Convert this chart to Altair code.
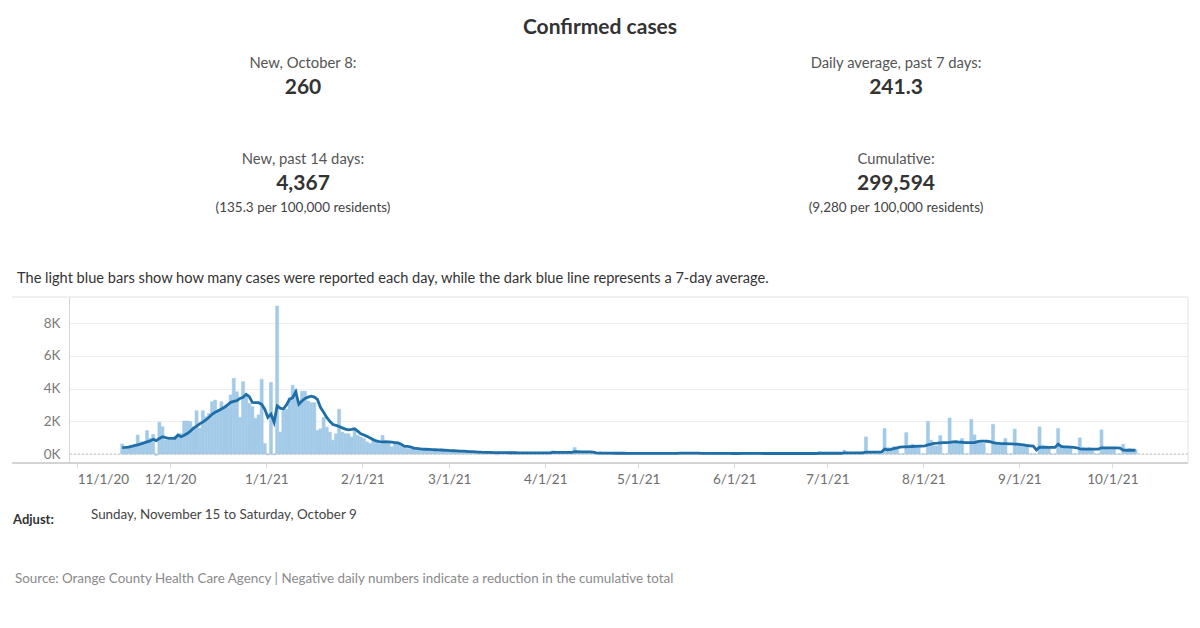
import altair as alt
import pandas as pd

# ---------------- data ----------------
FIRST_DAY = "2020-11-15"

# daily reported cases, one list per month
cases_nov_2020 = [610, 450, 450, 550, 600, 1160, 750, 600, 1430, 960, 1200, -80, 1940, 1670, 860, 860]
cases_dec_2020 = [860, 1060, 1160, 1260, 2020, 2020, 1980, 1670, 2650, 1570, 2650, 2280, 2490, 3200, 3300,
                  2690, 3200, 2800, 2900, 3610, 4630, 3810, 2240, 4430, 3510, 3100, 2900, 2180, 2390, 4570, 640]
cases_jan_2021 = [-50, 4380, -50, 9050, 1340, 2640, 2740, 3440, 4200, 3940, 3040, 3840, 3840, 3240, 3140,
                  3140, 1440, 1540, 2240, 1640, 1340, 840, 1240, 2740, 1340, 1240, 1240, 1040, 1440, 1140, 1040]
cases_feb_2021 = [940, 740, 640, 840, 740, 640, 1140, 840, 740, 440, 640, 640, 540, 440, 340, 340, 300, 280,
                  260, 250, 240, 260, 230, 220, 250, 340, 200, 190]
cases_mar_2021 = [180, 170, 160, 150, 170, 140, 120, 130, 110, 120, 100, 110, 100, 90, 100, -40, 90, 80, 90,
                  70, 80, 70, 80, 60, 70, 80, 60, 70, 60, 80, 70]
cases_apr_2021 = [60, 70, 200, 50, 70, 60, 80, 60, 70, 400, 50, 60, 70, 60, 50, 40, 50, 40, 50, 40, 50, 40,
                  30, 50, 40, 50, 40, 40, 50, 40]
cases_may_2021 = [52, 38, 47, 41, 33, 26, 55, 44, 36, 49, 40, 31, 22, 90, 58, 45, 51, 37, 29, 24, 48, 39, 34,
                  42, 30, 21, 18, 35, 41, 33, 28]
cases_jun_2021 = [45, 30, 38, 42, 25, 20, 50, 35, 40, 28, 33, 22, 18, 46, 38, 30, 41, 27, 19, 15, 44, 36, 31,
                  40, 24, 17, 12, 140, 35, 42]
cases_jul_2021 = [45, 38, 25, 20, 15, 240, 60, 55, 50, 20, 15, 150, 1050, 150, 150, 120, 0, 0, 1560, 400, 350,
                  450, 350, 0, 0, 1310, 500, 600, 550, 500, 0]
cases_aug_2021 = [0, 2000, 850, 500, 500, 1130, 0, 0, 2200, 700, 750, 700, 950, 0, 0, 2120, 1170, 700, 700,
                  650, 0, 0, 1820, 650, 600, 550, 950, 0, 0, 1520, 550]
cases_sep_2021 = [600, 500, 500, 0, 0, 0, 1660, 550, 500, 450, 0, 0, 1560, 450, 400, 450, 350, 0, 0, 990, 400,
                  350, 400, 300, 0, 0, 1480, 300, 320, 270]
cases_oct_2021 = [307, 0, 0, 600, 250, 330, 250, 260]

# 7-day average (dark blue line), one list per month
avg_nov_2020 = [390, 400, 420, 460, 510, 560, 610, 680, 740, 800, 900, 820, 950, 1060, 1000, 960]
avg_dec_2020 = [960, 960, 1160, 1060, 1150, 1250, 1400, 1570, 1700, 1840, 1950, 2080, 2250, 2430, 2550, 2650,
                2750, 2860, 3000, 3160, 3220, 3260, 3400, 3470, 3650, 3510, 3160, 3140, 3140, 3040, 2740]
avg_jan_2021 = [2240, 2440, 1940, 2940, 2800, 2750, 3000, 3340, 3440, 3800, 3040, 3240, 3400, 3480, 3540, 3480,
                3340, 2840, 2550, 2240, 2000, 1800, 1750, 1680, 1600, 1520, 1480, 1500, 1540, 1400, 1240]
avg_feb_2021 = [1160, 1080, 980, 880, 800, 760, 740, 740, 740, 720, 700, 680, 600, 480, 460, 440, 360, 340, 320,
                300, 290, 280, 270, 260, 250, 240, 230, 220]
avg_mar_2021 = [210, 200, 190, 180, 170, 160, 150, 140, 130, 120, 110, 105, 100, 95, 90, 85, 82, 80, 80, 78, 78,
                76, 75, 75, 74, 74, 73, 72, 72, 72, 72]
avg_apr_2021 = [72, 72, 100, 98, 96, 95, 95, 95, 94, 140, 138, 136, 134, 130, 125, 120, 70, 60, 55, 52, 50, 48,
                46, 45, 45, 45, 44, 44, 44, 44]
avg_may_2021 = [44, 42, 42, 42, 41, 41, 41, 41, 40, 40, 40, 40, 40, 48, 52, 52, 52, 52, 52, 52, 44, 40, 38, 38,
                36, 35, 34, 34, 33, 33, 32]
avg_jun_2021 = [32, 32, 33, 33, 33, 33, 33, 33, 33, 32, 32, 32, 31, 31, 31, 31, 31, 31, 30, 30, 30, 30, 30, 30,
                30, 30, 30, 45, 45, 45]
avg_jul_2021 = [45, 45, 45, 45, 45, 75, 75, 75, 75, 75, 75, 70, 110, 120, 120, 120, 120, 120, 300, 250, 280, 330,
                380, 420, 440, 440, 450, 460, 470, 480, 480]
avg_aug_2021 = [500, 560, 600, 650, 660, 680, 690, 690, 710, 740, 750, 730, 720, 700, 690, 690, 700, 760, 790,
                790, 780, 760, 700, 670, 650, 640, 630, 620, 620, 610, 600]
avg_sep_2021 = [580, 560, 520, 500, 480, 250, 420, 400, 400, 400, 400, 400, 600, 460, 440, 430, 420, 400, 380,
                320, 300, 300, 300, 300, 300, 300, 380, 380, 380, 380]
avg_oct_2021 = [380, 370, 360, 240, 230, 240, 230, 241.3]

x_tick_dates = [(2020, 11), (2020, 12), (2021, 1), (2021, 2), (2021, 3), (2021, 4), (2021, 5), (2021, 6),
                (2021, 7), (2021, 8), (2021, 9), (2021, 10)]
y_tick_values = [0, 2000, 4000, 6000, 8000]

# texts
TITLE = "Confirmed cases"
KPI_LEFT = ["New, October 8:", "260", "New, past 14 days:", "4,367", "(135.3 per 100,000 residents)"]
KPI_RIGHT = ["Daily average, past 7 days:", "241.3", "Cumulative:", "299,594", "(9,280 per 100,000 residents)"]
SUBTITLE = ("The light blue bars show how many cases were reported each day, "
            "while the dark blue line represents a 7-day average.")
ADJUST_LABEL = "Adjust:"
ADJUST_RANGE = "Sunday, November 15 to Saturday, October 9"
SOURCE = ("Source: Orange County Health Care Agency | Negative daily numbers indicate "
          "a reduction in the cumulative total")

# ---------------- build table ----------------
daily_cases = (cases_nov_2020 + cases_dec_2020 + cases_jan_2021 + cases_feb_2021 + cases_mar_2021 +
               cases_apr_2021 + cases_may_2021 + cases_jun_2021 + cases_jul_2021 + cases_aug_2021 +
               cases_sep_2021 + cases_oct_2021)
seven_day_avg = (avg_nov_2020 + avg_dec_2020 + avg_jan_2021 + avg_feb_2021 + avg_mar_2021 + avg_apr_2021 +
                 avg_may_2021 + avg_jun_2021 + avg_jul_2021 + avg_aug_2021 + avg_sep_2021 + avg_oct_2021)

days = pd.date_range(FIRST_DAY, periods=len(daily_cases), freq="D")
df = pd.DataFrame({
    "day": days.strftime("%Y-%m-%dT00:00:00Z"),
    "next": (days + pd.Timedelta(days=1)).strftime("%Y-%m-%dT00:00:00Z"),
    "mid": days.strftime("%Y-%m-%dT12:00:00Z"),
    "cases": daily_cases,
    "avg": seven_day_avg[:len(daily_cases)],
})

# ---------------- layout constants ----------------
W, H = 1119, 166          # plot area
PAD_L, PAD_T = 61, 289    # page x=69, y=297 for plot origin
FONT = "Lato"
BAR_COLOR = "#a3cbe8"
LINE_COLOR = "#1f6ea8"


def px(xp):  # page x -> plot x
    return xp - (8 + PAD_L)


def py(yp):  # page y -> plot y
    return yp - (8 + PAD_T)


x_scale = alt.Scale(
    type="utc",
    domain=[alt.DateTime(year=2020, month=10, date=29, hours=8, utc=True),
            alt.DateTime(year=2021, month=10, date=25, hours=10, utc=True)],
    nice=False,
)
y_scale = alt.Scale(domain=[-550, 9600], nice=False, zero=False)

x_axis = alt.Axis(
    values=[alt.DateTime(year=y, month=m, date=1, utc=True) for (y, m) in x_tick_dates],
    labelExpr="utcFormat(datum.value, '%-m/%-d/%y')",
    title=None, grid=False, domain=False,
    tickSize=5, tickColor="#dddddd", labelPadding=4,
    labelFont=FONT, labelFontSize=13.5, labelColor="#6e6e6e",
    labelFlush=12, labelOverlap=False,
)
y_axis = alt.Axis(
    values=y_tick_values, labelExpr="datum.value / 1000 + 'K'",
    title=None, grid=True, gridColor="#eeeeee", gridWidth=1,
    domain=True, domainColor="#d6d6d6", ticks=False, labelPadding=9,
    labelFont=FONT, labelFontSize=13.5, labelColor="#7a7a7a",
)

base = alt.Chart(df)

bars = base.mark_bar(color=BAR_COLOR, stroke=BAR_COLOR, strokeWidth=0.5).encode(
    x=alt.X("day:T", scale=x_scale, axis=x_axis),
    x2="next:T",
    y=alt.Y("cases:Q", scale=y_scale, axis=y_axis),
    y2=alt.datum(0),
)

zero_line = alt.Chart(pd.DataFrame({"v": [0]})).mark_rule(
    color="#bdbdbd", strokeDash=[2, 2], strokeWidth=1
).encode(y=alt.Y("v:Q", scale=y_scale))

avg_line = base.mark_line(color=LINE_COLOR, strokeWidth=2.8, interpolate="linear").encode(
    x=alt.X("mid:T", scale=x_scale),
    y=alt.Y("avg:Q", scale=y_scale),
)

one = pd.DataFrame({"k": [0]})


def rule(x1, x2, y1, y2, color, width):
    return alt.Chart(one).mark_rule(color=color, strokeWidth=width).encode(
        x=alt.value(x1), x2=alt.value(x2), y=alt.value(y1), y2=alt.value(y2)
    )


frame = [
    rule(px(12), W, 0, 0, "#e2e2e2", 1),
    rule(px(12), W, H, H, "#d3d3d3", 2),
    rule(W, W, 0, H, "#e2e2e2", 1),
]


def label(text, xp, yp, size=14, weight="normal", color="#333333", align="center"):
    return alt.Chart(one).mark_text(
        text=text, font=FONT, fontSize=size, fontWeight=weight, color=color,
        align=align, baseline="middle",
    ).encode(x=alt.value(px(xp)), y=alt.value(py(yp)))


texts = [label(TITLE, 600, 28, size=21, weight="bold", color="#333333")]
for col_x, items in ((303, KPI_LEFT), (896, KPI_RIGHT)):
    texts += [
        label(items[0], col_x, 64, size=14.8, color="#555555"),
        label(items[1], col_x, 88, size=21, weight="bold", color="#333333"),
        label(items[2], col_x, 160, size=14.8, color="#555555"),
        label(items[3], col_x, 184, size=21, weight="bold", color="#333333"),
        label(items[4], col_x, 208, size=13.5, color="#444444"),
    ]
texts += [
    label(SUBTITLE, 17, 279, size=14.6, color="#333333", align="left"),
    label(ADJUST_LABEL, 13, 520, size=13, weight="bold", color="#333333", align="left"),
    label(ADJUST_RANGE, 91, 515, size=13.4, color="#444444", align="left"),
    label(SOURCE, 15, 579, size=13.4, color="#8a8a8a", align="left"),
]

chart = alt.layer(bars, zero_line, avg_line, *frame, *texts).properties(
    width=W, height=H,
    autosize=alt.AutoSizeParams(type="none"),
    padding={"left": PAD_L, "top": PAD_T, "right": 4, "bottom": 150},
    background="white",
).configure_view(stroke=None)

chart.save("out.html", embed_options={"renderer": "svg", "actions": False})
